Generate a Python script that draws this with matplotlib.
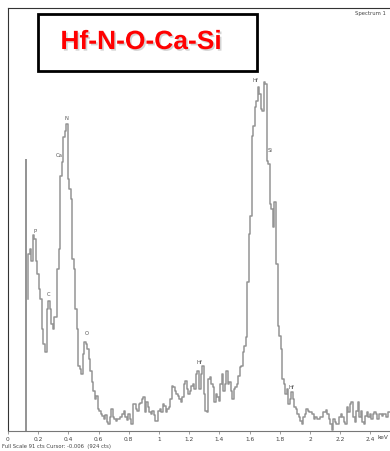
import matplotlib
matplotlib.use("Agg")
import matplotlib.pyplot as plt
import matplotlib.patches as patches
import matplotlib.patheffects as pe
import numpy as np

# EDS spectrum, 10 eV channels starting at 0.13 keV
channel_start = 0.13
channel_width = 0.01
counts = [
    28.4, 38.1, 39.1, 36.6, 42.1, 41.3, 36.6, 33.8, 30.5, 28.4,
    21.9, 18.7, 17.0, 26.2, 28.0, 26.2, 23.0, 21.9, 24.5, 24.5,
    34.8, 39.1, 54.8, 57.8, 63.2, 64.5, 66.0, 54.2, 52.0, 49.9,
    37.0, 34.8, 26.2, 21.9, 14.0, 13.3, 12.3, 16.6, 19.1, 18.7,
    17.6, 15.5, 12.9, 10.5, 8.6, 6.9, 7.5, 4.7, 4.3, 3.7,
    3.2, 2.6, 3.4, 1.9, 1.5, 3.0, 4.7, 3.0, 2.6, 2.2,
    2.6, 2.6, 3.0, 3.7, 4.3, 3.0, 2.4, 3.7, 2.6, 1.5,
    5.8, 5.8, 4.7, 4.3, 5.8, 6.0, 6.9, 7.3, 4.1, 6.2,
    5.2, 4.1, 3.7, 4.3, 3.4, 2.2, 2.2, 4.3, 4.7, 4.1,
    5.8, 5.4, 4.1, 4.7, 5.2, 6.9, 9.7, 9.5, 8.6, 8.0,
    7.5, 6.9, 6.2, 7.3, 10.1, 10.8, 9.0, 8.0, 8.6, 9.7,
    10.1, 9.0, 12.3, 12.9, 9.0, 12.3, 14.0, 8.0, 4.3, 4.1,
    11.2, 11.6, 10.1, 9.5, 6.2, 8.0, 7.3, 6.5, 10.1, 12.3,
    8.6, 10.1, 12.9, 10.1, 10.5, 8.6, 6.9, 9.0, 9.5, 10.1,
    11.8, 13.8, 14.0, 17.0, 18.3, 20.2, 32.0, 42.4, 46.2, 63.4,
    65.6, 69.7, 71.0, 74.0, 72.5, 69.2, 68.8, 75.0, 74.6, 58.1,
    57.4, 48.8, 47.7, 43.9, 49.2, 35.9, 22.6, 20.4, 17.6, 11.2,
    10.1, 8.0, 9.0, 5.8, 6.9, 8.4, 6.9, 5.2, 4.7, 3.7,
    3.0, 2.2, 1.5, 3.0, 3.7, 4.7, 4.3, 4.1, 4.1, 3.7,
    2.6, 3.0, 2.6, 2.6, 3.0, 3.0, 4.1, 4.1, 4.5, 3.7,
    2.6, 1.5, 0.2, 2.6, 1.9, 1.5, 1.5, 3.0, 3.7, 3.0,
    1.9, 1.5, 5.2, 4.1, 5.8, 6.2, 3.0, 1.9, 4.3, 6.2,
    3.0, 4.3, 1.9, 1.5, 3.2, 4.1, 3.0, 3.7, 2.6, 3.7,
    4.1, 3.7, 2.6, 3.7, 3.7, 3.2, 3.7, 3.7, 3.0, 4.1,
    4.1,
]
energy = channel_start + channel_width * np.arange(len(counts))

# peak labels: (text, keV, counts)
peak_labels = ["P", "C", "Ca", "N", "O", "Hf", "Hf", "Si", "Hf"]
peak_kev = [0.18, 0.27, 0.34, 0.39, 0.52, 1.27, 1.64, 1.735, 1.88]
peak_cts = [42.5, 29.0, 59.0, 67.0, 20.6, 14.4, 75.0, 60.0, 9.0]

xticks = [0, 0.2, 0.4, 0.6, 0.8, 1, 1.2, 1.4, 1.6, 1.8, 2, 2.2, 2.4]
xtick_labels = ["0", "0.2", "0.4", "0.6", "0.8", "1", "1.2", "1.4",
                "1.6", "1.8", "2", "2.2", "2.4"]

marker_kev = 0.12
marker_cts = 58.5

fig = plt.figure(figsize=(3.9, 4.52), dpi=100)
ax = fig.add_axes([8 / 390, 20 / 452, 382 / 390, 423 / 452])

ax.plot(energy, counts, drawstyle="steps-mid", color="#949494", lw=1.1)
ax.vlines(marker_kev, 0, marker_cts, color="#808080", lw=1.2)

for lab, x, y in zip(peak_labels, peak_kev, peak_cts):
    ax.text(x, y, lab, fontsize=3.8, color="#555555", ha="center", va="bottom")

ax.set_xlim(0, 2.53)
ax.set_ylim(0, 91)
ax.set_yticks([])
ax.set_xticks(xticks)
ax.set_xticklabels(xtick_labels, fontsize=4.2, color="#444444")
ax.tick_params(axis="x", length=2, width=0.5, color="#777777", pad=1.5)
ax.spines["right"].set_visible(False)
ax.spines["top"].set_color("#333333")
ax.spines["left"].set_color("#333333")
ax.spines["bottom"].set_color("#777777")
ax.spines["bottom"].set_linestyle((0, (1, 1)))

fig.text(355 / 390, 1 - 14 / 452, "Spectrum 1", fontsize=3.8, color="#444444",
         ha="left", va="center")
fig.text(388 / 390, 1 - 438 / 452, "keV", fontsize=4.2, color="#444444",
         ha="right", va="center")
fig.text(2 / 390, 1 - 447 / 452, "Full Scale 91 cts Cursor: -0.006  (924 cts)",
         fontsize=3.8, color="#444444", ha="left", va="center")

box = patches.Rectangle((38 / 390, 1 - 72 / 452), 219 / 390, 57 / 452,
                        transform=fig.transFigure, facecolor="white",
                        edgecolor="black", lw=2, zorder=5)
fig.add_artist(box)
fig.text(141 / 390, 1 - 43 / 452, "Hf-N-O-Ca-Si", fontsize=19, fontweight="bold",
         family="Liberation Sans", color="#ff0000", ha="center", va="center",
         zorder=6,
         path_effects=[pe.SimplePatchShadow(offset=(1.2, -1.2),
                                            shadow_rgbFace="#aaaaaa", alpha=0.5),
                       pe.Normal()])

fig.savefig("out.png", dpi=100)
